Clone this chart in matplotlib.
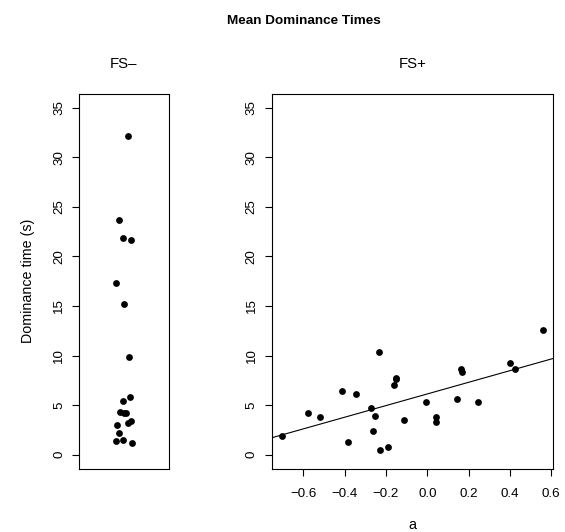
import numpy as np
import matplotlib
matplotlib.use("Agg")
import matplotlib.pyplot as plt

plt.rcParams['font.family'] = ['Liberation Sans', 'DejaVu Sans']

# FS- group: dominance times (s) with strip jitter offsets
fs_minus_time = [32.16, 23.66, 21.82, 21.69, 17.34, 15.16, 9.84,
                 5.79, 5.39, 4.35, 4.25, 4.22, 3.44, 3.21, 3.01,
                 2.18, 1.54, 1.37, 1.20]
fs_minus_jitter = [0.05, -0.06, -0.01, 0.08, -0.09, 0.00, 0.06,
                   0.07, -0.01, -0.04, 0.00, 0.02, 0.08, 0.05, -0.08,
                   -0.05, -0.01, -0.09, 0.09]

# FS+ group: a vs dominance time (s)
fs_plus_a = [-0.705, -0.576, -0.518, -0.415, -0.382, -0.344, -0.273,
             -0.255, -0.265, -0.234, -0.231, -0.192, -0.161, -0.150,
             -0.152, -0.113, -0.006, 0.044, 0.041, 0.142, 0.165, 0.166,
             0.247, 0.402, 0.423, 0.559]
fs_plus_time = [1.91, 4.25, 3.78, 6.43, 1.24, 6.12, 4.69, 3.95, 2.41,
                10.37, 0.47, 0.80, 7.00, 7.76, 7.60, 3.51, 5.35, 3.85,
                3.28, 5.65, 8.60, 8.30, 5.29, 9.24, 8.67, 12.62]

y_ticks = [0, 5, 10, 15, 20, 25, 30, 35]
x_ticks = [-0.6, -0.4, -0.2, 0.0, 0.2, 0.4, 0.6]

fig = plt.figure(figsize=(5.65, 5.32), dpi=100)
ax1 = fig.add_axes([0.1398, 0.119, 0.1593, 0.705])
ax2 = fig.add_axes([0.4809, 0.119, 0.4973, 0.705])

tick_fs = 9.6
lab_fs = 10.3


def style(ax):
    for s in ax.spines.values():
        s.set_linewidth(0.8)
        s.set_color('black')
    ax.set_ylim(-1.4, 36.4)
    ax.set_yticks(y_ticks)
    ax.set_yticklabels([str(t) for t in y_ticks], rotation=90, va='center',
                       fontsize=tick_fs)
    ax.tick_params(axis='y', direction='out', length=5, width=0.8, pad=5)
    ax.tick_params(axis='x', direction='out', length=5, width=0.8, pad=9)


ax1.scatter([1 + j for j in fs_minus_jitter], fs_minus_time, s=24,
            color='black', zorder=3, linewidths=0)
ax1.set_xlim(0.5, 1.5)
ax1.set_xticks([])
style(ax1)
ax1.set_ylabel('Dominance time (s)', fontsize=lab_fs, labelpad=13)
ax1.set_title('FS\u2013', fontsize=10.8, pad=18.5)

ax2.scatter(fs_plus_a, fs_plus_time, s=24, color='black', zorder=3,
            linewidths=0)
style(ax2)
ax2.set_xticks(x_ticks)
ax2.set_xticklabels(['\u22120.6', '\u22120.4', '\u22120.2', '0.0', '0.2',
                     '0.4', '0.6'], fontsize=tick_fs)
slope, intercept = np.polyfit(fs_plus_a, fs_plus_time, 1)
xl = np.array([-0.8, 0.7])
ax2.plot(xl, intercept + slope * xl, color='black', linewidth=0.8)
ax2.set_xlim(-0.753, 0.607)
ax2.set_title('FS+', fontsize=10.8, pad=18.5)

fig.text(412 / 565, 1 - 525 / 532, 'a', ha='center', va='center',
         fontsize=lab_fs)
fig.text(0.537, 1 - 20.5 / 532, 'Mean Dominance Times', ha='center',
         va='center', fontsize=9.7, fontweight='bold')

fig.savefig('out.png', dpi=100)
